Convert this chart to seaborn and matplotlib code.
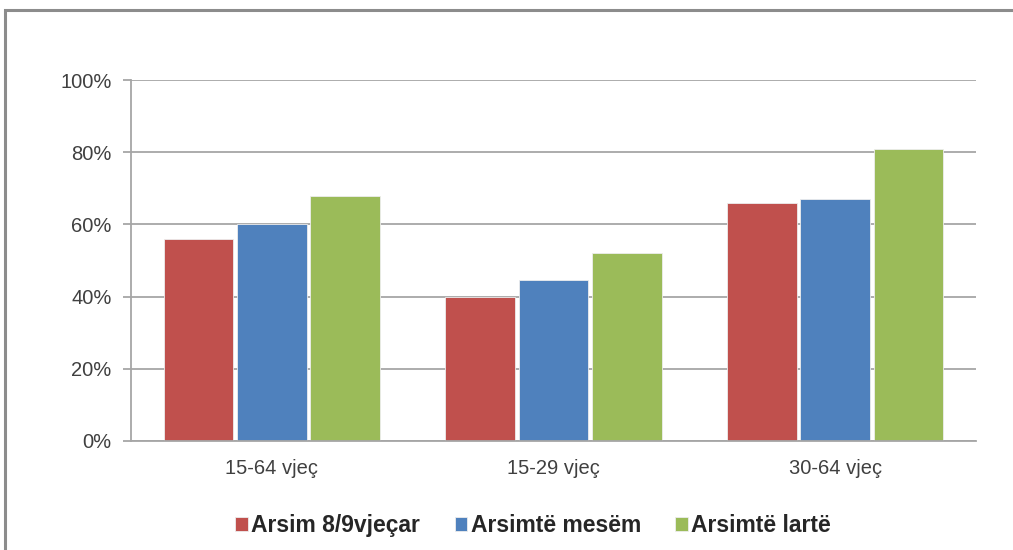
import pandas as pd
import matplotlib
matplotlib.use("Agg")
import matplotlib.pyplot as plt
import seaborn as sns
from matplotlib.patches import Rectangle
from matplotlib.ticker import PercentFormatter


age_groups = ["15-64 vjeç", "15-29 vjeç", "30-64 vjeç"]
education = ["Arsim 8/9vjeçar", "Arsimtë mesëm", "Arsimtë lartë"]
basic = [56, 40, 66]
secondary = [60, 44.5, 67]
higher = [68, 52, 81]
colors = ["#C0504D", "#4F81BD", "#9BBB59"]


def build_frame() -> pd.DataFrame:
    rows = []
    for level, values in zip(education, [basic, secondary, higher]):
        for group, val in zip(age_groups, values):
            rows.append({"group": group, "level": level, "value": val})
    return pd.DataFrame(rows)


def main():
    sns.set_style("white")
    plt.rcParams["font.family"] = ["Liberation Sans", "DejaVu Sans"]

    df = build_frame()
    fig = plt.figure(figsize=(10.13, 5.5), dpi=100)
    ax = fig.add_axes([0.1293, 0.1982, 0.8342, 0.6563])

    sns.barplot(data=df, x="group", y="value", hue="level", palette=colors,
                width=0.78, gap=0.05, ax=ax, legend=True, saturation=1,
                linewidth=0.6, edgecolor="#EDEDED")

    ax.set_ylim(0, 100)
    ax.set_xlim(-0.5, 2.5)
    ax.set_yticks(range(0, 101, 20))
    ax.yaxis.set_major_formatter(PercentFormatter(decimals=0))
    ax.grid(axis="y", color="#A6A6A6", linewidth=1.3)
    ax.set_axisbelow(True)
    ax.set_xlabel("")
    ax.set_ylabel("")
    for side in ["top", "right"]:
        ax.spines[side].set_visible(False)
    for side in ["left", "bottom"]:
        ax.spines[side].set_color("#A6A6A6")
        ax.spines[side].set_linewidth(1.3)
    ax.tick_params(axis="y", length=6, width=1.3, color="#A6A6A6",
                   labelsize=14.5, labelcolor="#404040", pad=8, left=True)
    ax.tick_params(axis="x", length=0, labelsize=14.5, labelcolor="#404040", pad=13)

    handles, labels = ax.get_legend_handles_labels()
    ax.legend(handles, labels, loc="center", bbox_to_anchor=(0.476, -0.235),
              ncol=3, frameon=False, handlelength=0.55, handleheight=0.55,
              handletextpad=0.15, columnspacing=1.5,
              prop={"family": ["Liberation Sans Narrow", "Liberation Sans"],
                    "weight": "bold", "size": 16.5})

    # document frame around the chart
    fig.patches.append(Rectangle((5 / 1013, -0.05), 1.2, 1 - 10 / 550 + 0.05,
                                 transform=fig.transFigure, fill=False,
                                 edgecolor="#8C8C8C", linewidth=2.2))

    fig.savefig("out.png", dpi=100)
    plt.close(fig)


if __name__ == "__main__":
    main()
